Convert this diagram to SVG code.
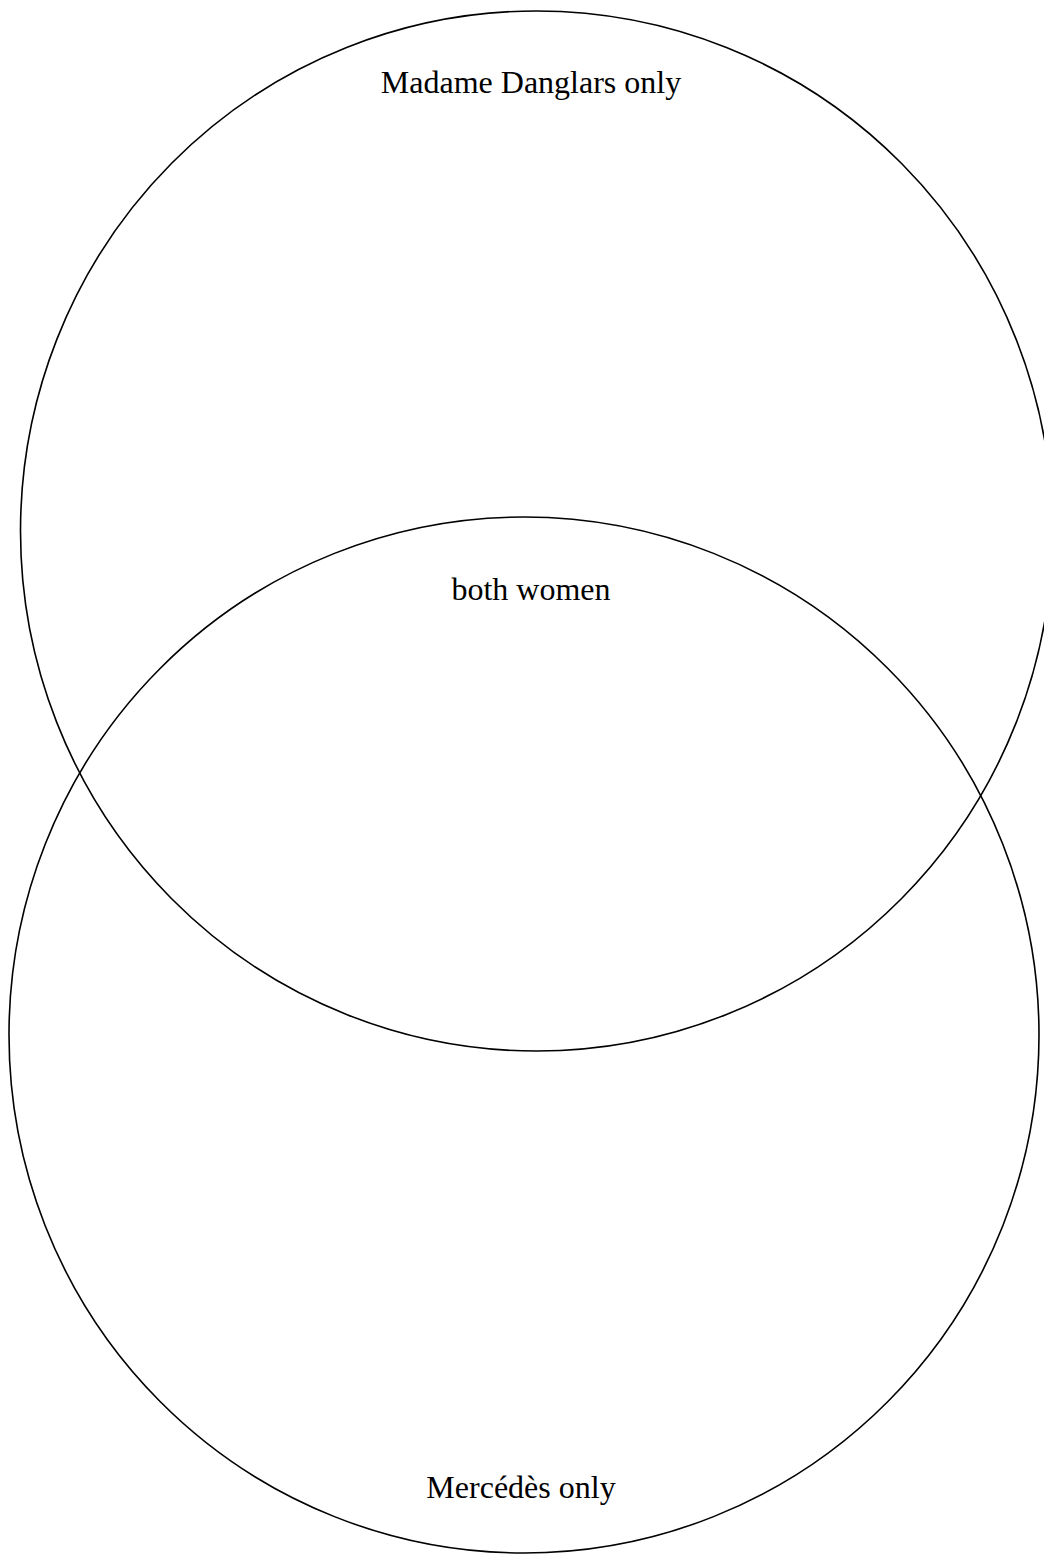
<svg xmlns="http://www.w3.org/2000/svg" width="1044" height="1554" viewBox="0 0 1044 1554">
<style>
.set{fill:none;stroke:#000;stroke-width:1.6}
.lbl{font-family:"Liberation Serif","Times New Roman",serif;font-size:32px;fill:#000;text-anchor:middle}
</style>
<rect width="1044" height="1554" fill="#fff"/>
<g id="set-danglars">
<ellipse class="set" cx="536.5" cy="531" rx="516" ry="520"/>
<text class="lbl" x="531" y="93">Madame Danglars only</text>
</g>
<g id="set-mercedes">
<ellipse class="set" cx="524" cy="1035" rx="515" ry="518"/>
<text class="lbl" x="521" y="1498">Mercédès only</text>
</g>
<g id="both">
<text class="lbl" x="531" y="600">both women</text>
</g>
<g id="connectors"></g>
</svg>
